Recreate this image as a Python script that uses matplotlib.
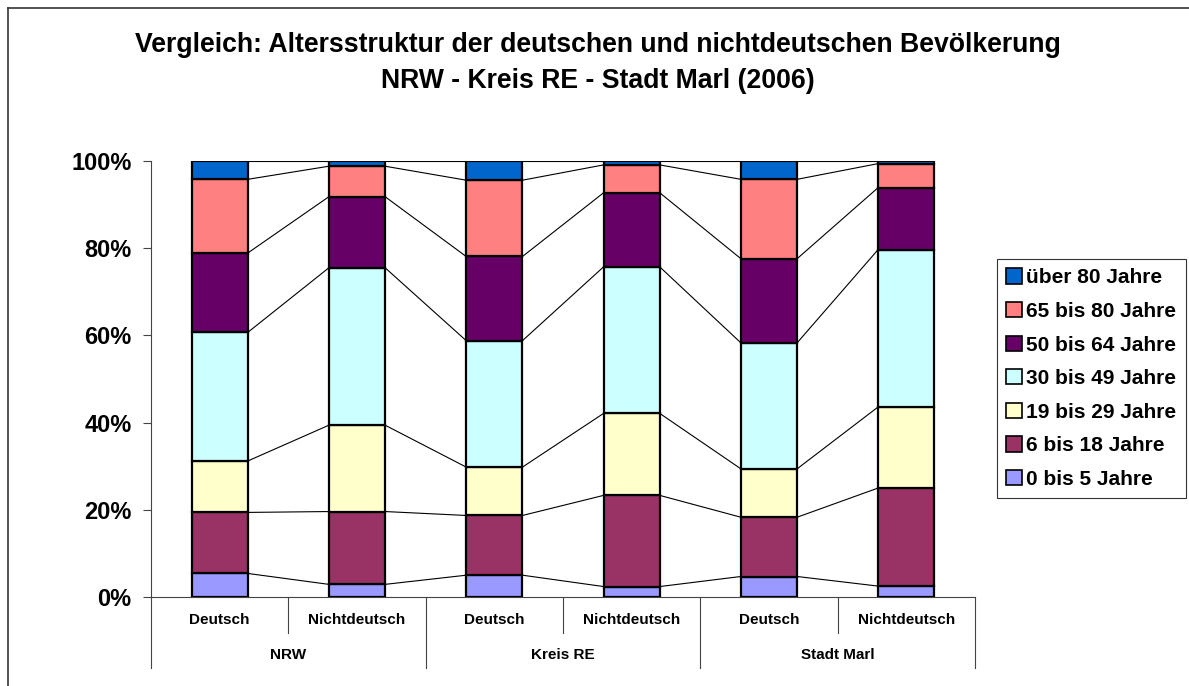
import matplotlib
matplotlib.use("Agg")
import matplotlib.pyplot as plt
import numpy as np
from matplotlib.patches import Patch
from matplotlib.lines import Line2D
import matplotlib.transforms as mtransforms

plt.rcParams['font.family'] = ['Liberation Sans', 'DejaVu Sans']
plt.rcParams['font.weight'] = 'bold'

title = "Vergleich: Altersstruktur der deutschen und nichtdeutschen Bevölkerung\nNRW - Kreis RE - Stadt Marl (2006)"
sub_labels = ["Deutsch", "Nichtdeutsch", "Deutsch", "Nichtdeutsch", "Deutsch", "Nichtdeutsch"]
group_labels = ["NRW", "Kreis RE", "Stadt Marl"]
series_names = ["0 bis 5 Jahre", "6 bis 18 Jahre", "19 bis 29 Jahre", "30 bis 49 Jahre",
                "50 bis 64 Jahre", "65 bis 80 Jahre", "über 80 Jahre"]
colors = ["#9999FF", "#993366", "#FFFFCC", "#CCFFFF", "#660066", "#FF8080", "#0066CC"]

age_0_5 = [5.4, 2.9, 5.0, 2.4, 4.7, 2.5]
age_6_18 = [14.0, 16.7, 13.7, 20.9, 13.6, 22.5]
age_19_29 = [11.8, 19.8, 11.1, 18.8, 11.1, 18.6]
age_30_49 = [29.5, 36.1, 29.0, 33.6, 28.9, 36.1]
age_50_64 = [18.2, 16.3, 19.3, 17.0, 19.3, 14.2]
age_65_80 = [16.9, 7.0, 17.5, 6.4, 18.2, 5.5]
age_80p = [4.2, 1.2, 4.4, 0.9, 4.2, 0.6]

series = np.array([age_0_5, age_6_18, age_19_29, age_30_49, age_50_64, age_65_80, age_80p], dtype=float)
series = series / series.sum(axis=0)  # 100% stacked

W, H = 1189, 686
fig = plt.figure(figsize=(W / 100, H / 100), dpi=100)
ax = fig.add_axes([151 / W, 1 - 597 / H, 824 / W, 436 / H])

x = np.arange(len(sub_labels)) + 0.5
width = 0.41
bottom = np.zeros(len(x))
cum = [bottom.copy()]
for vals, col, name in zip(series, colors, series_names):
    ax.bar(x, vals, width=width, bottom=bottom, color=col, edgecolor='black',
           linewidth=1.6, label=name, zorder=3)
    bottom = bottom + vals
    cum.append(bottom.copy())

# series lines between adjacent bars
for level in cum[1:]:
    for i in range(len(x) - 1):
        ax.plot([x[i] + width / 2, x[i + 1] - width / 2], [level[i], level[i + 1]],
                color='black', linewidth=0.8, zorder=2)

ax.set_xlim(0, len(x))
ax.set_ylim(0, 1)
ax.set_yticks(np.linspace(0, 1, 6))
ax.set_yticklabels([f"{int(round(v * 100))}%" for v in np.linspace(0, 1, 6)],
                   fontsize=17, fontweight='bold')
ax.tick_params(axis='y', direction='out', length=6, width=0.8, color='#444444', pad=8)
ax.set_xticks([])
for s in ['top', 'right']:
    ax.spines[s].set_visible(False)
for s in ['left', 'bottom']:
    ax.spines[s].set_color('#444444')
    ax.spines[s].set_linewidth(0.8)

trans = mtransforms.blended_transform_factory(ax.transData, ax.transAxes)
# category separators
for b in range(len(x) + 1):
    yend = -0.163 if b % 2 == 0 else -0.083
    ax.plot([b, b], [0, yend], color='#444444', linewidth=0.8, transform=trans, clip_on=False)
for xi, lab in zip(x, sub_labels):
    ax.text(xi, -0.053, lab, transform=trans, ha='center', va='center', fontsize=11, fontweight='bold')
for g, lab in enumerate(group_labels):
    ax.text(2 * g + 1, -0.133, lab, transform=trans, ha='center', va='center', fontsize=11, fontweight='bold')

fig.text(598 / W, 1 - 63 / H, title, ha='center', va='center', fontsize=19.2, fontweight='bold',
         linespacing=1.45)

handles = [Patch(facecolor=c, edgecolor='black', linewidth=1.2, label=n)
           for c, n in zip(colors, series_names)][::-1]
leg = fig.legend(handles=handles, loc='upper left', bbox_to_anchor=(997 / W, 1 - 259 / H),
                 frameon=True, fancybox=False, edgecolor='black', fontsize=15,
                 handlelength=0.75, handleheight=0.75, handletextpad=0.2,
                 labelspacing=0.7, borderpad=0.45, borderaxespad=0)
leg.get_frame().set_linewidth(0.8)
for t in leg.get_texts():
    t.set_fontweight('bold')

# outer chart frame (partially cropped)
fig.add_artist(Line2D([8 / W, 8 / W], [0, 1 - 8 / H], color='#333333', linewidth=1.2))
fig.add_artist(Line2D([8 / W, 1], [1 - 8 / H, 1 - 8 / H], color='#333333', linewidth=1.2))

fig.savefig("out.png", dpi=100, facecolor='white')
